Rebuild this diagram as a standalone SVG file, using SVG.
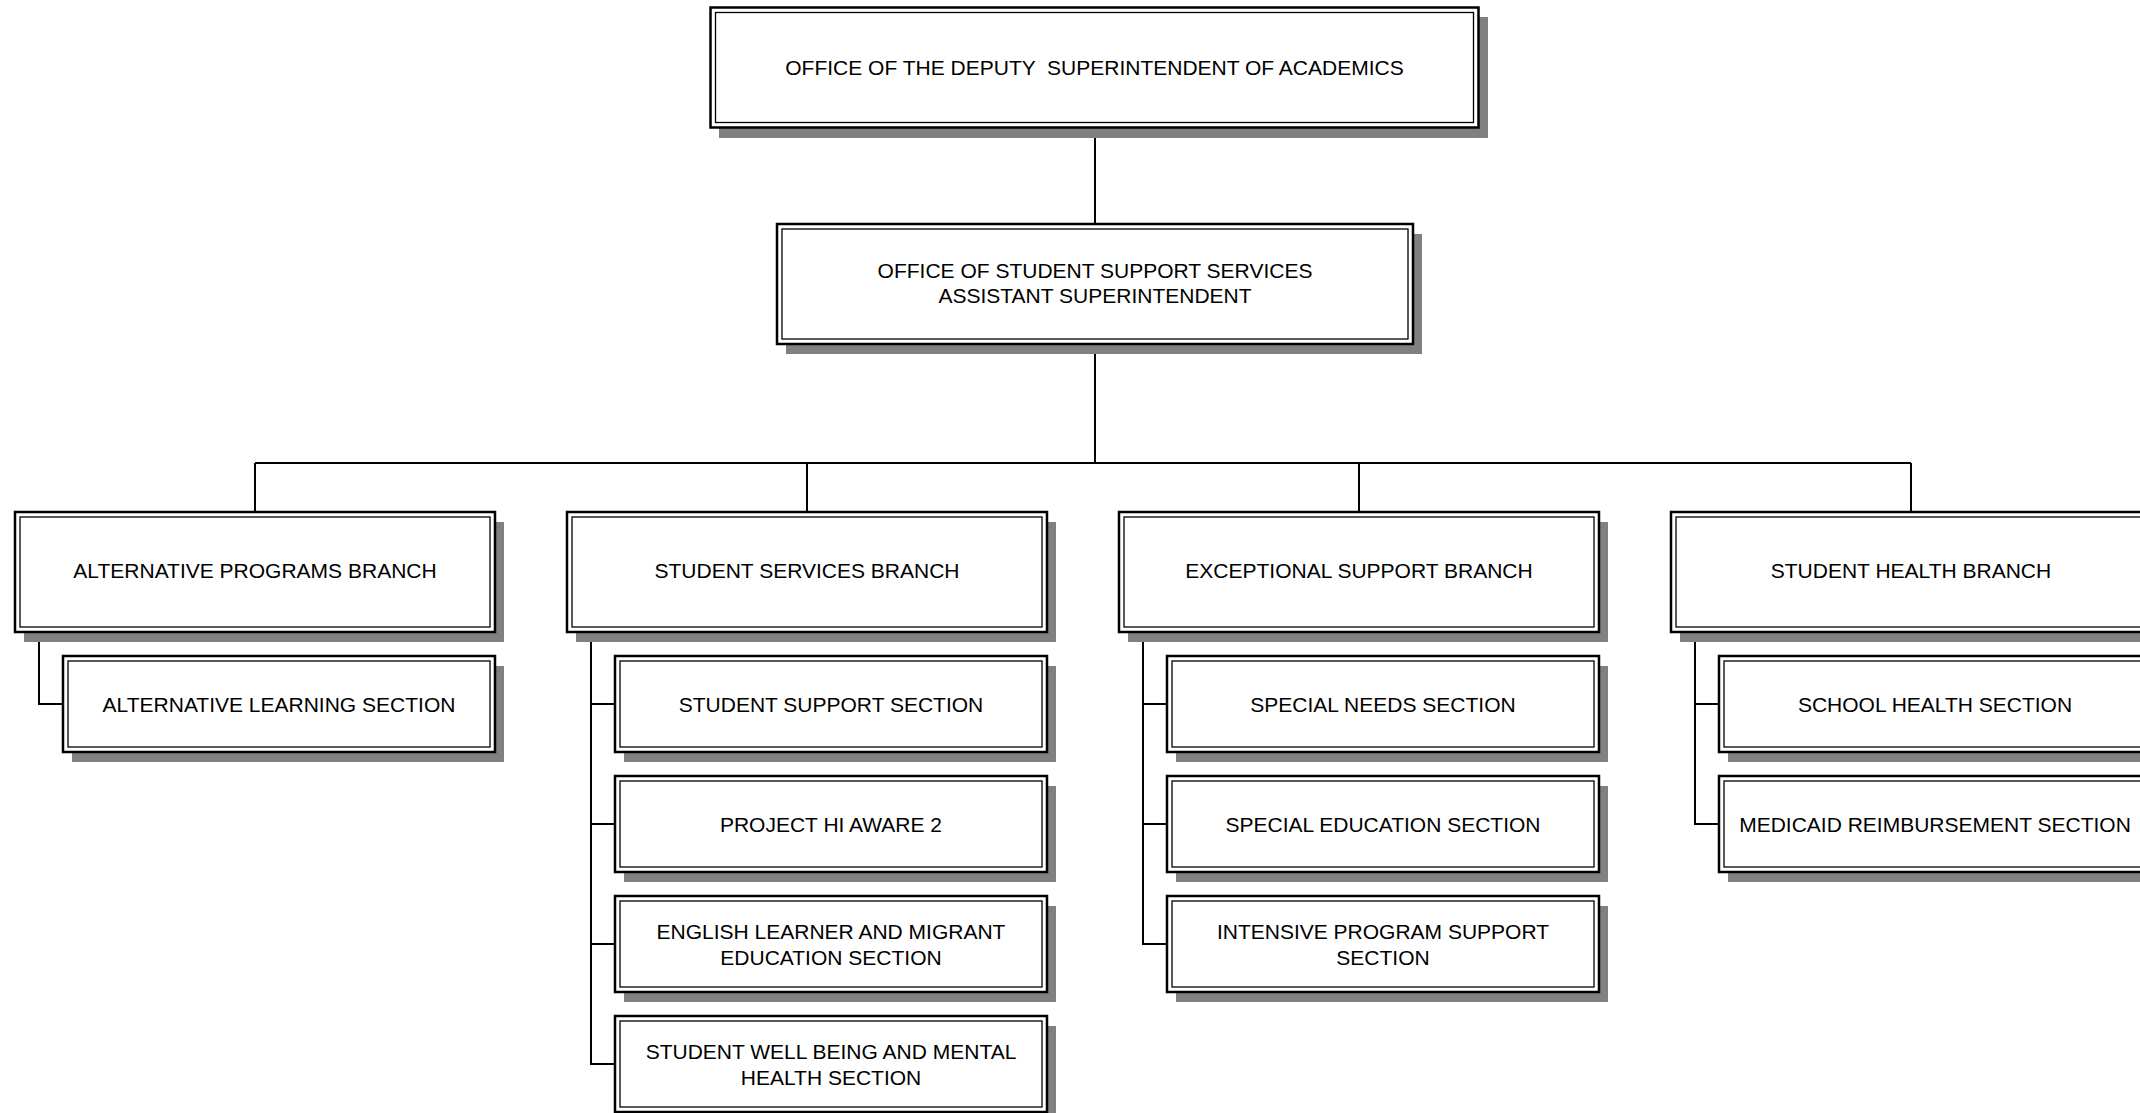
<svg xmlns="http://www.w3.org/2000/svg" width="2140" height="1113" viewBox="0 0 2140 1113">
<defs>
<style>
.shadow{fill:#808080;stroke:none}
.outer{fill:#ffffff;stroke:#000000;stroke-width:2.5}
.inner{fill:none;stroke:#000000;stroke-width:1.3}
.lbl{font-family:"Liberation Sans",Arial,sans-serif;font-size:21px;fill:#000000;text-anchor:middle;white-space:pre}
.conn{stroke:#000000;stroke-width:2;fill:none}
</style>
</defs>
<rect x="0" y="0" width="2140" height="1113" fill="#ffffff"/>
<g id="connectors">
<path class="conn" d="M1095 128 V224"/>
<path class="conn" d="M1095 344 V463"/>
<path class="conn" d="M255 463 H1911"/>
<path class="conn" d="M255 463 V512"/>
<path class="conn" d="M807 463 V512"/>
<path class="conn" d="M1359 463 V512"/>
<path class="conn" d="M1911 463 V512"/>
<path class="conn" d="M39 632 V704 H63"/>
<path class="conn" d="M591 632 V1064 H615 M591 704 H615 M591 824 H615 M591 944 H615"/>
<path class="conn" d="M1143 632 V944 H1167 M1143 704 H1167 M1143 824 H1167"/>
<path class="conn" d="M1695 632 V824 H1719 M1695 704 H1719"/>
</g>
<g id="deputy">
<rect class="shadow" x="719" y="17" width="769" height="121"/>
<rect class="outer" x="710.5" y="7.5" width="768" height="120"/>
<rect class="inner" x="715.5" y="12.5" width="758" height="110"/>
<text class="lbl" x="1094.5" y="75">OFFICE OF THE DEPUTY  SUPERINTENDENT OF ACADEMICS</text>
</g>
<g id="oss">
<rect class="shadow" x="786" y="234" width="636" height="120"/>
<rect class="outer" x="777" y="224" width="636" height="120"/>
<rect class="inner" x="782" y="229" width="626" height="110"/>
<text class="lbl" x="1095" y="278">OFFICE OF STUDENT SUPPORT SERVICES</text>
<text class="lbl" x="1095" y="303">ASSISTANT SUPERINTENDENT</text>
</g>
<g id="alt-branch">
<rect class="shadow" x="24" y="522" width="480" height="120"/>
<rect class="outer" x="15" y="512" width="480" height="120"/>
<rect class="inner" x="20" y="517" width="470" height="110"/>
<text class="lbl" x="255" y="578">ALTERNATIVE PROGRAMS BRANCH</text>
</g>
<g id="alt-learning">
<rect class="shadow" x="72" y="666" width="432" height="96"/>
<rect class="outer" x="63" y="656" width="432" height="96"/>
<rect class="inner" x="68" y="661" width="422" height="86"/>
<text class="lbl" x="279" y="711.5">ALTERNATIVE LEARNING SECTION</text>
</g>
<g id="ss-branch">
<rect class="shadow" x="576" y="522" width="480" height="120"/>
<rect class="outer" x="567" y="512" width="480" height="120"/>
<rect class="inner" x="572" y="517" width="470" height="110"/>
<text class="lbl" x="807" y="578">STUDENT SERVICES BRANCH</text>
</g>
<g id="ss-support">
<rect class="shadow" x="624" y="666" width="432" height="96"/>
<rect class="outer" x="615" y="656" width="432" height="96"/>
<rect class="inner" x="620" y="661" width="422" height="86"/>
<text class="lbl" x="831" y="711.5">STUDENT SUPPORT SECTION</text>
</g>
<g id="ss-hiaware">
<rect class="shadow" x="624" y="786" width="432" height="96"/>
<rect class="outer" x="615" y="776" width="432" height="96"/>
<rect class="inner" x="620" y="781" width="422" height="86"/>
<text class="lbl" x="831" y="831.5">PROJECT HI AWARE 2</text>
</g>
<g id="ss-english">
<rect class="shadow" x="624" y="906" width="432" height="96"/>
<rect class="outer" x="615" y="896" width="432" height="96"/>
<rect class="inner" x="620" y="901" width="422" height="86"/>
<text class="lbl" x="831" y="939">ENGLISH LEARNER AND MIGRANT</text>
<text class="lbl" x="831" y="965">EDUCATION SECTION</text>
</g>
<g id="ss-wellbeing">
<rect class="shadow" x="624" y="1026" width="432" height="96"/>
<rect class="outer" x="615" y="1016" width="432" height="96"/>
<rect class="inner" x="620" y="1021" width="422" height="86"/>
<text class="lbl" x="831" y="1059">STUDENT WELL BEING AND MENTAL</text>
<text class="lbl" x="831" y="1085">HEALTH SECTION</text>
</g>
<g id="ex-branch">
<rect class="shadow" x="1128" y="522" width="480" height="120"/>
<rect class="outer" x="1119" y="512" width="480" height="120"/>
<rect class="inner" x="1124" y="517" width="470" height="110"/>
<text class="lbl" x="1359" y="578">EXCEPTIONAL SUPPORT BRANCH</text>
</g>
<g id="ex-needs">
<rect class="shadow" x="1176" y="666" width="432" height="96"/>
<rect class="outer" x="1167" y="656" width="432" height="96"/>
<rect class="inner" x="1172" y="661" width="422" height="86"/>
<text class="lbl" x="1383" y="711.5">SPECIAL NEEDS SECTION</text>
</g>
<g id="ex-sped">
<rect class="shadow" x="1176" y="786" width="432" height="96"/>
<rect class="outer" x="1167" y="776" width="432" height="96"/>
<rect class="inner" x="1172" y="781" width="422" height="86"/>
<text class="lbl" x="1383" y="831.5">SPECIAL EDUCATION SECTION</text>
</g>
<g id="ex-intensive">
<rect class="shadow" x="1176" y="906" width="432" height="96"/>
<rect class="outer" x="1167" y="896" width="432" height="96"/>
<rect class="inner" x="1172" y="901" width="422" height="86"/>
<text class="lbl" x="1383" y="939">INTENSIVE PROGRAM SUPPORT</text>
<text class="lbl" x="1383" y="965">SECTION</text>
</g>
<g id="sh-branch">
<rect class="shadow" x="1680" y="522" width="480" height="120"/>
<rect class="outer" x="1671" y="512" width="480" height="120"/>
<rect class="inner" x="1676" y="517" width="470" height="110"/>
<text class="lbl" x="1911" y="578">STUDENT HEALTH BRANCH</text>
</g>
<g id="sh-school">
<rect class="shadow" x="1728" y="666" width="432" height="96"/>
<rect class="outer" x="1719" y="656" width="432" height="96"/>
<rect class="inner" x="1724" y="661" width="422" height="86"/>
<text class="lbl" x="1935" y="711.5">SCHOOL HEALTH SECTION</text>
</g>
<g id="sh-medicaid">
<rect class="shadow" x="1728" y="786" width="432" height="96"/>
<rect class="outer" x="1719" y="776" width="432" height="96"/>
<rect class="inner" x="1724" y="781" width="422" height="86"/>
<text class="lbl" x="1935" y="831.5">MEDICAID REIMBURSEMENT SECTION</text>
</g>
</svg>
